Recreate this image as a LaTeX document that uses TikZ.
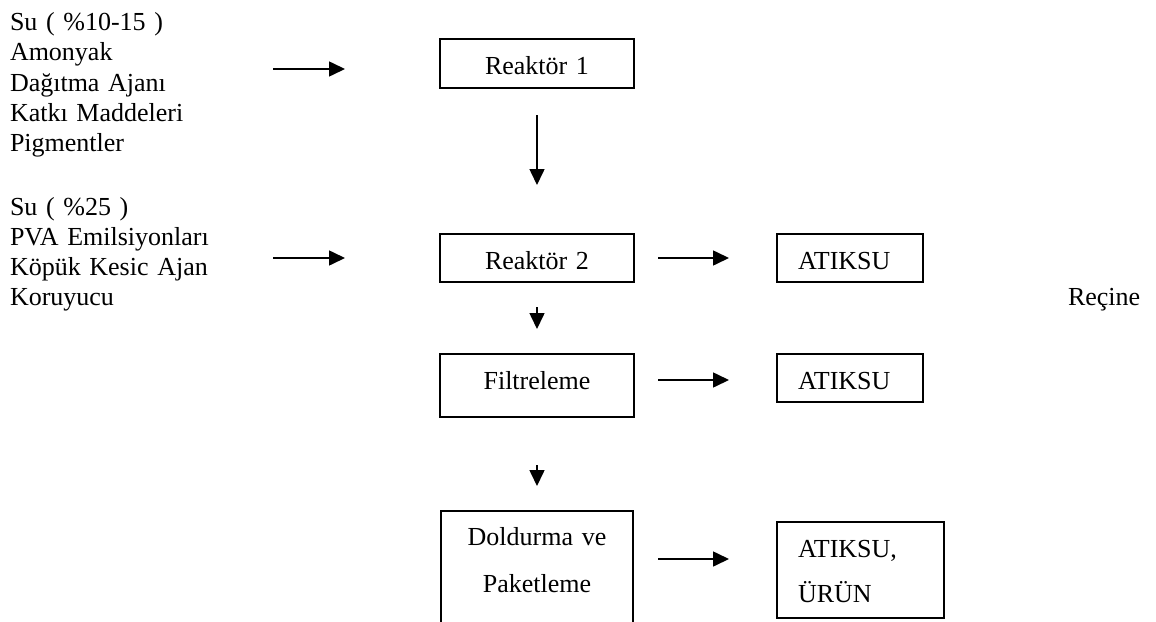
\documentclass[tikz,border=0pt]{standalone}
\usepackage{fontspec}
\setmainfont{Liberation Serif}
\usetikzlibrary{arrows.meta}
\begin{document}
\begin{tikzpicture}[x=0.75pt,y=-0.75pt,
  txt/.style={font=\fontsize{19.5}{22.5}\selectfont, inner sep=0, outer sep=0, anchor=base west, align=left, text width=260pt},
  box/.style={draw, line width=1.2pt, font=\fontsize{19.5}{22.5}\selectfont, inner ysep=0, outer sep=0},
  cbox/.style={box, anchor=base, inner xsep=0, align=center},
  lbox/.style={box, anchor=base west, inner xsep=15.75pt, align=left},
  arr/.style={line width=1.2pt, -{Triangle[length=12pt,width=11.25pt]}}]
\clip (0,0) rectangle (1156,621);
% inputs
\node[txt] (in1) at (10,31) {Su ( \%10-15 )\\Amonyak\\Dağıtma Ajanı\\Katkı Maddeleri\\Pigmentler};
\node[txt] (in2) at (10,215) {Su ( \%25 )\\PVA Emilsiyonları\\Köpük Kesic Ajan\\Koruyucu};
\node[txt, text width=60pt] (recine) at (1068,305) {Reçine};
% process boxes
\node[cbox, text width=145.5pt, text height=26.25pt, text depth=10.5pt] (r1) at (537,74) {Reaktör 1};
\node[cbox, text width=145.5pt, text height=26.25pt, text depth=9.75pt] (r2) at (537,269) {Reaktör 2};
\node[cbox, text width=145.5pt, text height=26.25pt, text depth=21pt] (fil) at (537,389) {Filtreleme};
\node[cbox, text width=144pt, text height=25.5pt, text depth=86.25pt, font=\fontsize{19.5}{35.25}\selectfont] (dol) at (537,545) {Doldurma ve\\Paketleme};
% outputs
\node[lbox, text width=78pt, text height=26.25pt, text depth=9.75pt] (at1) at (777,269) {ATIKSU};
\node[lbox, text width=78pt, text height=26.25pt, text depth=9.75pt] (at2) at (777,389) {ATIKSU};
\node[lbox, text width=93.75pt, text height=26.25pt, text depth=45.75pt, font=\fontsize{19.5}{33.75}\selectfont] (at3) at (777,557) {ATIKSU,\\ÜRÜN};
% arrow end points
\coordinate (a1s) at (273,69);  \coordinate (a1e) at (345,69);
\coordinate (a2s) at (273,258); \coordinate (a2e) at (345,258);
\coordinate (v1s) at (537,115); \coordinate (v1e) at (537,185);
\coordinate (v2s) at (537,307); \coordinate (v2e) at (537,329);
\coordinate (v3s) at (537,465); \coordinate (v3e) at (537,486);
\coordinate (h1s) at (658,258); \coordinate (h1e) at (729,258);
\coordinate (h2s) at (658,380); \coordinate (h2e) at (729,380);
\coordinate (h3s) at (658,559); \coordinate (h3e) at (729,559);
\draw[arr] (a1s) -- (a1e);
\draw[arr] (a2s) -- (a2e);
\draw[arr] (v1s) -- (v1e);
\draw[arr] (v2s) -- (v2e);
\draw[arr] (v3s) -- (v3e);
\draw[arr] (h1s) -- (h1e);
\draw[arr] (h2s) -- (h2e);
\draw[arr] (h3s) -- (h3e);
\end{tikzpicture}
\end{document}
